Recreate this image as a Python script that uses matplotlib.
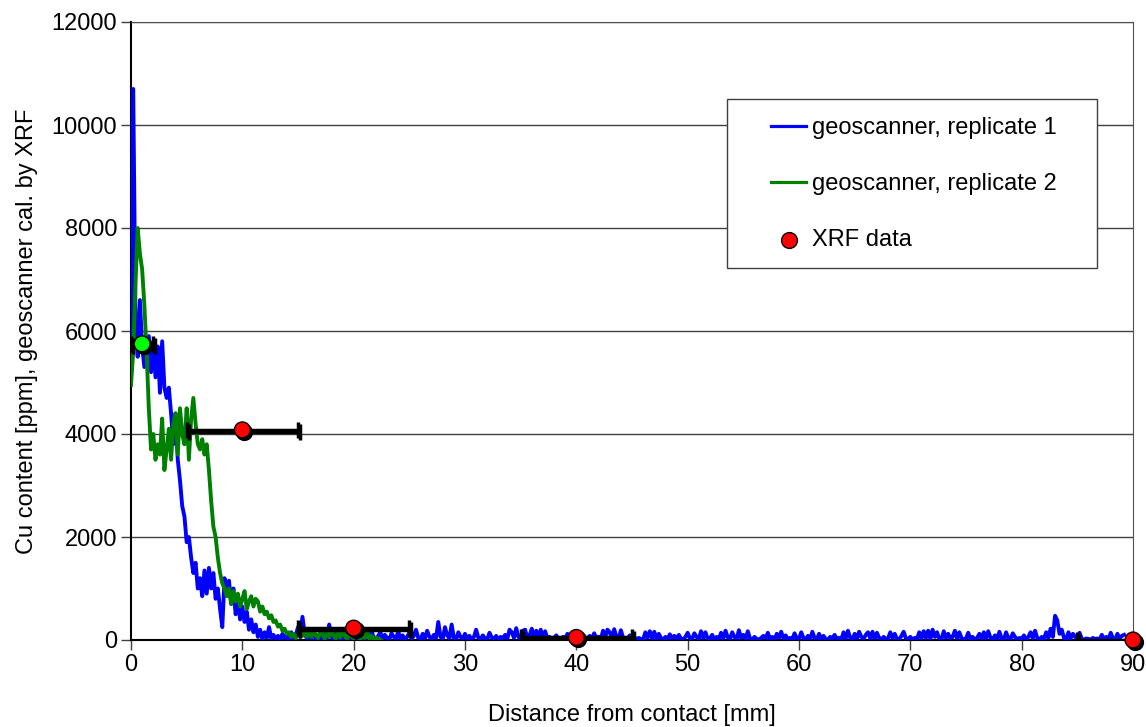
import numpy as np
import matplotlib
matplotlib.use("Agg")
import matplotlib.pyplot as plt
from matplotlib.patches import Rectangle
from matplotlib.transforms import offset_copy

plt.rcParams['font.family'] = ['Liberation Sans', 'DejaVu Sans']

# sampling step of the geoscanner profiles [mm]
step = 0.2

# replicate 1, Cu [ppm] every 0.2 mm from 0 to 89.2 mm
blue_cu = [
    # 0.0 - 12.8
    5400, 10700, 6300, 5500, 6600, 5700, 5300, 5600, 5900, 5200,
    5800, 5100, 5700, 4800, 5800, 4900, 4700, 4900, 4400, 3800,
    4400, 3500, 3100, 2600, 2400, 1900, 2000, 1600, 1300, 1500,
    1000, 1200, 850, 1350, 900, 1400, 1000, 1300, 800, 1000,
    600, 250, 1200, 900, 1150, 700, 1000, 500, 800, 400,
    650, 350, 550, 200, 400, 150, 300, 60, 200, 20,
    150, 40, 250, 30, 100,
    # 13.0 - 14.8
    20, 80, 10, 120, 40, 60, 0, 150, 30, 90,
    # 15.0 - 19.8
    250, 60, 450, 120, 30, 80, 20, 150, 40, 10,
    90, 30, 120, 20, 300, 60, 10, 140, 30, 70,
    20, 180, 40, 10, 110,
    # 20 - 29.8
    30, 90, 10, 160, 40, 20, 120, 60, 200, 30,
    10, 80, 150, 20, 100, 40, 10, 130, 60, 20,
    170, 30, 90, 10, 60, 140, 20, 80, 200, 40,
    10, 120, 30, 180, 60, 20, 100, 40, 350, 60,
    20, 250, 90, 30, 300, 40, 10, 150, 60, 20,
    # 30 - 39.8
    120, 30, 80, 10, 60, 200, 40, 20, 90, 30,
    10, 140, 50, 20, 80, 10, 60, 30, 100, 20,
    200, 150, 40, 230, 60, 10, 180, 200, 30, 90,
    220, 40, 180, 60, 200, 20, 170, 30, 60, 10,
    40, 90, 20, 10, 60, 30, 120, 20, 40, 10,
    # 40 - 49.8
    60, 20, 90, 10, 40, 30, 80, 20, 130, 40,
    60, 20, 180, 60, 200, 150, 30, 210, 60, 20,
    190, 40, 10, 30, 90, 20, 60, 10, 40, 20,
    10, 150, 40, 170, 30, 160, 20, 120, 40, 10,
    60, 20, 110, 40, 80, 20, 100, 30, 10, 60,
    # 50 - 59.8
    140, 30, 20, 130, 60, 10, 170, 40, 150, 20,
    30, 100, 10, 60, 20, 140, 30, 180, 50, 20,
    150, 60, 10, 190, 40, 100, 20, 170, 30, 10,
    60, 20, 10, 40, 80, 30, 140, 20, 60, 10,
    120, 40, 160, 30, 90, 10, 40, 20, 130, 30,
    # 60 - 69.8
    20, 150, 40, 10, 80, 20, 160, 40, 10, 120,
    30, 80, 20, 10, 60, 30, 100, 20, 40, 10,
    150, 30, 180, 40, 10, 120, 20, 160, 60, 20,
    100, 150, 30, 160, 20, 140, 40, 10, 60, 20,
    30, 150, 40, 120, 20, 10, 80, 160, 30, 20,
    # 70 - 79.8
    60, 10, 40, 20, 150, 30, 170, 40, 180, 20,
    200, 60, 150, 20, 10, 170, 40, 120, 30, 60,
    180, 20, 150, 40, 10, 30, 140, 20, 60, 10,
    40, 120, 20, 150, 30, 170, 40, 10, 90, 20,
    160, 30, 10, 150, 40, 20, 130, 60, 10, 40,
    # 80 - 89.2
    20, 90, 10, 60, 150, 30, 180, 40, 10, 60,
    20, 150, 40, 220, 60, 470, 380, 120, 200, 40,
    10, 150, 30, 120, 60, 10, 140, 20, 10, 30,
    20, 10, 40, 20, 30, 10, 100, 20, 60, 10,
    140, 30, 10, 120, 30, 80, 100,
]

# replicate 2, Cu [ppm] every 0.2 mm from 0 to 22.4 mm
green_cu = [
    4950, 5600, 6900, 8000, 7500, 7200, 6500, 5600, 4500, 3700,
    4000, 3500, 3800, 3600, 4300, 3300, 3700, 4100, 3500, 4200,
    4400, 3600, 4500, 4000, 3800, 4500, 3500, 4300, 4700, 4200,
    3800, 3700, 3900, 3600, 3800, 3300, 2700, 2200, 2000, 1600,
    1300, 1100, 1000, 850, 1000, 700, 950, 750, 900, 650,
    800, 950, 600, 750, 850, 650, 800, 750, 550, 650,
    500, 550, 420, 480, 350, 380, 260, 300, 180, 220,
    120, 150, 60, 120, 40, 100, 160, 80, 180, 60,
    130,
    60, 200, 90, 40, 180, 100, 30, 150, 60, 220,
    80, 30, 160, 50, 200, 90, 20, 140, 60, 30,
    190, 70, 20, 120, 40, 160, 30, 80, 10, 50,
    20, 0,
]

# XRF reference measurements
xrf_dist = [1, 10, 20, 40, 90]
xrf_cu = [5750, 4080, 230, 50, 0]
xrf_halfwidth = [1, 5, 5, 5, 5]
xrf_colors = ['#00ff00', 'red', 'red', 'red', 'red']

fs = 17

fig = plt.figure(figsize=(11.46, 7.27), dpi=100)
ax = fig.add_axes([131 / 1146, 87 / 727, 1002 / 1146, 618 / 727])

x_blue = np.arange(len(blue_cu)) * step
x_green = np.arange(len(green_cu)) * step
ax.plot(x_blue, blue_cu, color='#0000ff', lw=2.8, zorder=3)
ax.plot(x_green, green_cu, color='#008000', lw=2.8, zorder=3)

# error bars with a small dark shadow, like the spreadsheet original
shadow = offset_copy(ax.transData, fig=fig, x=2, y=-2, units='dots')
ax.errorbar(xrf_dist, xrf_cu, xerr=xrf_halfwidth, fmt='none', ecolor='black',
            elinewidth=2.5, capsize=6, capthick=2.5, zorder=4, transform=shadow)
ax.errorbar(xrf_dist, xrf_cu, xerr=xrf_halfwidth, fmt='none', ecolor='black',
            elinewidth=2.5, capsize=6, capthick=2.5, zorder=4)
ax.scatter(xrf_dist, xrf_cu, s=130, color='black', zorder=5,
           transform=shadow, clip_on=False)
ax.scatter(xrf_dist, xrf_cu, s=130, c=xrf_colors, edgecolors='black',
           linewidths=1, zorder=6, clip_on=False)

ax.set_xlim(0, 90)
ax.set_ylim(0, 12000)
ax.set_xticks(np.arange(0, 91, 10))
ax.set_yticks(np.arange(0, 12001, 2000))
ax.yaxis.grid(True, color='#404040', lw=1)
ax.set_axisbelow(True)
ax.tick_params(labelsize=fs, direction='out', length=7, width=1, pad=3,
               color='#404040')
for side in ['top', 'right']:
    ax.spines[side].set_color('#505050')
for side in ['left', 'bottom']:
    ax.spines[side].set_color('black')
    ax.spines[side].set_linewidth(1.5)

ax.set_xlabel('Distance from contact [mm]', fontsize=fs, labelpad=20)
ax.set_ylabel('Cu content [ppm], geoscanner cal. by XRF', fontsize=fs, labelpad=10)

# legend frame drawn separately so the padding matches the original
frame = Rectangle((596 / 1002, 372 / 618), 370 / 1002, 169 / 618,
                  transform=ax.transAxes, facecolor='white', edgecolor='#404040',
                  lw=1, zorder=7)
ax.add_patch(frame)
h_blue, = ax.plot([], [], color='#0000ff', lw=2.3)
h_green, = ax.plot([], [], color='#008000', lw=2.3)
h_xrf = ax.scatter([], [], s=130, color='red', edgecolors='black', linewidths=1)
leg = ax.legend([h_blue, h_green, h_xrf],
                ['geoscanner, replicate 1', 'geoscanner, replicate 2', 'XRF data'],
                loc='upper left', bbox_to_anchor=(640 / 1002, 523 / 618),
                frameon=False, fontsize=fs, borderpad=0, borderaxespad=0,
                handlelength=1.5, handletextpad=0.25, labelspacing=1.45,
                scatterpoints=1)
leg.set_zorder(8)

fig.savefig('out.png', dpi=100)
